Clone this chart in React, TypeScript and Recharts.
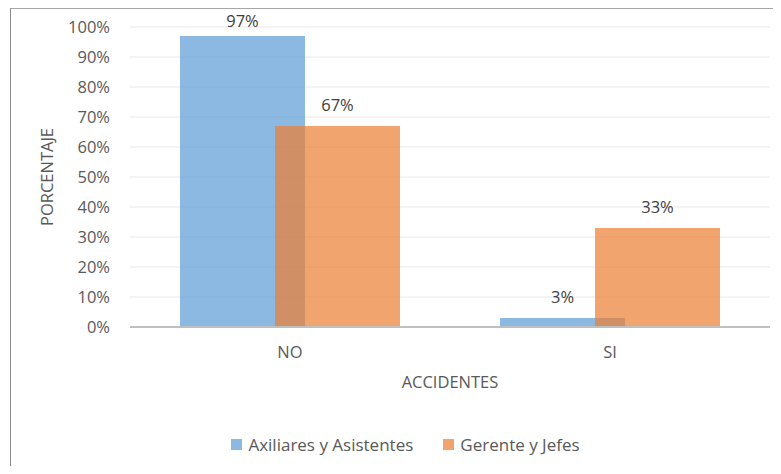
import { BarChart, Bar, XAxis, YAxis, CartesianGrid, Legend, LabelList, Label } from 'recharts';

// Respuestas por categoría de accidente (en %)
const categorias = ['NO', 'SI'];
const auxiliares = [97, 3];
const gerentes = [67, 33];
const ticksY = [0, 10, 20, 30, 40, 50, 60, 70, 80, 90, 100];

const series = [
  { key: 'auxiliares', name: 'Axiliares y Asistentes', color: '#5B9BD5' },
  { key: 'gerentes', name: 'Gerente y Jefes', color: '#ED7D31' },
];

const data = categorias.map((cat, i) => ({
  cat,
  auxiliares: auxiliares[i],
  gerentes: gerentes[i],
}));

const FONT = '"Open Sans", Lato, sans-serif';
const FS = 16.5;

function ValueLabel(props: any) {
  const { x, y, width, value } = props;
  // keep the label inside the plot when the bar reaches the top
  const baseline = Math.max(y - 15, 27);
  return (
    <text
      x={x + width / 2}
      y={baseline}
      textAnchor="middle"
      fill="#404040"
      fontSize={FS}
      fontFamily={FONT}
    >
      {value}%
    </text>
  );
}

function LegendContent() {
  return (
    <div
      style={{
        display: 'flex',
        justifyContent: 'center',
        alignItems: 'center',
        paddingLeft: 30,
        fontFamily: FONT,
        fontSize: 17,
        color: '#595959',
      }}
    >
      {series.map((s, i) => (
        <div
          key={s.key}
          style={{ display: 'flex', alignItems: 'center', marginLeft: i === 0 ? 0 : 30 }}
        >
          <span
            style={{
              display: 'inline-block',
              width: 11,
              height: 11,
              background: s.color,
              opacity: 0.7,
              marginRight: 6,
            }}
          />
          <span>{s.name}</span>
        </div>
      ))}
    </div>
  );
}

export default function App() {
  return (
    <div style={{ position: 'relative', margin: -8, width: 781, height: 474, background: '#fff', overflow: 'hidden' }}>
      <div
        style={{
          position: 'absolute',
          left: 10,
          top: 7,
          width: 800,
          height: 500,
          borderTop: '2px solid #A6A6A6',
          borderLeft: '1px solid #8C8C8C',
        }}
      />
      <BarChart
        width={781}
        height={474}
        data={data}
        margin={{ top: 27, right: 11, left: 0, bottom: 107 }}
        barSize={125}
        barGap={-30}
        style={{ position: 'absolute', left: 0, top: 0 }}
      >
        <CartesianGrid vertical={false} stroke="#E8E8E8" />
        <XAxis
          dataKey="cat"
          height={40}
          tickLine={false}
          tickSize={0}
          tickMargin={19}
          axisLine={{ stroke: '#BFBFBF', strokeWidth: 2 }}
          tick={{ fill: '#595959', fontSize: FS, fontFamily: FONT }}
        >
          <Label
            value="ACCIDENTES"
            position="bottom"
            offset={9}
            fill="#595959"
            fontSize={FS}
            fontFamily={FONT}
          />
        </XAxis>
        <YAxis
          width={130}
          domain={[0, 100]}
          ticks={ticksY}
          tickFormatter={(v: number) => `${v}%`}
          axisLine={false}
          tickLine={false}
          tickSize={0}
          tickMargin={20}
          tick={{ fill: '#595959', fontSize: FS, fontFamily: FONT }}
        >
          <Label
            value="PORCENTAJE"
            angle={-90}
            position="insideLeft"
            offset={47}
            fill="#595959"
            fontSize={FS}
            fontFamily={FONT}
            style={{ textAnchor: 'middle' }}
          />
        </YAxis>
        <Legend
          layout="horizontal"
          verticalAlign="middle"
          content={<LegendContent />}
          wrapperStyle={{ top: 433, left: 0, width: 781 }}
        />
        {series.map((s) => (
          <Bar
            key={s.key}
            dataKey={s.key}
            name={s.name}
            fill={s.color}
            fillOpacity={0.7}
            isAnimationActive={false}
          >
            <LabelList dataKey={s.key} content={<ValueLabel />} />
          </Bar>
        ))}
      </BarChart>
    </div>
  );
}
